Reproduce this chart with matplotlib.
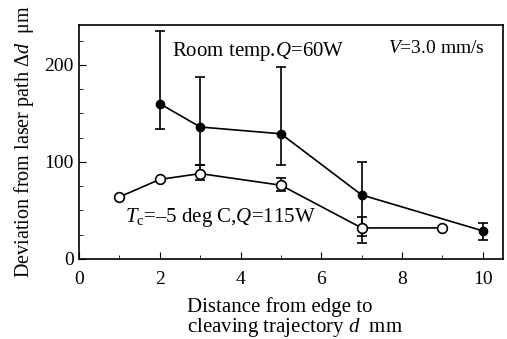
import matplotlib.pyplot as plt
from matplotlib.ticker import MultipleLocator

plt.rcParams['font.family'] = ['Liberation Serif', 'DejaVu Serif']
plt.rcParams['mathtext.fontset'] = 'custom'
plt.rcParams['mathtext.it'] = 'Liberation Serif:italic'
plt.rcParams['mathtext.rm'] = 'Liberation Serif'

# room temperature, Q = 60 W (filled)
room_d = [2, 3, 5, 7, 10]
room_dev = [160, 136, 129, 66, 29]
room_lo = [134, 97, 97, 16, 20]
room_hi = [235, 187, 198, 100, 37]

# cooled Tc = -5 deg C, Q = 115 W (open)
cool_d = [1, 2, 3, 5, 7, 9]
cool_dev = [64, 82, 88, 76, 32, 32]
cool_lo = [64, 82, 81, 70, 24, 32]
cool_hi = [64, 82, 97, 83, 43, 32]


def yerr(vals, lo, hi):
    return [[v - l for v, l in zip(vals, lo)], [h - v for v, h in zip(vals, hi)]]


fig = plt.figure(figsize=(5.07, 3.39), dpi=100)
ax = fig.add_axes([0.156, 0.236, 0.836, 0.690])

ax.errorbar(room_d, room_dev, yerr=yerr(room_dev, room_lo, room_hi),
            color='black', marker='o', ms=6, mfc='black', lw=1.2,
            elinewidth=1.2, capsize=3.5, capthick=1.2)
ax.errorbar(cool_d, cool_dev, yerr=yerr(cool_dev, cool_lo, cool_hi),
            color='black', marker='o', ms=7, mfc='white', mew=1.2, lw=1.2,
            elinewidth=1.2, capsize=3.5, capthick=1.2)

ax.set_xlim(0, 10.5)
ax.set_ylim(0, 241)
ax.xaxis.set_major_locator(MultipleLocator(2))
ax.xaxis.set_minor_locator(MultipleLocator(1))
ax.yaxis.set_major_locator(MultipleLocator(100))
ax.yaxis.set_minor_locator(MultipleLocator(25))
ax.tick_params(which='both', direction='in', labelsize=14)
ax.tick_params(which='major', length=5)
ax.tick_params(which='minor', length=3)
ax.tick_params(axis='x', pad=9)
ax.tick_params(axis='y', pad=4)
for s in ax.spines.values():
    s.set_linewidth(1.2)

ax.set_xlabel('Distance from edge to\ncleaving trajectory $d$  mm', fontsize=15,
              linespacing=0.92, multialignment='left')
ax.xaxis.set_label_coords(0.51, -0.165)
ax.set_ylabel(r'Deviation from laser path $\Delta d$  μm', fontsize=14.5,
              labelpad=6)

ax.text(2.3, 214, 'Room temp.$Q$=60W', fontsize=15, va='center')
ax.text(7.65, 217, '$V$=3.0 mm/s', fontsize=14, va='center')
ax.text(1.14, 43, '$T_{\\rm c}$=–5 deg C,$Q$=115W', fontsize=15, va='center')

fig.savefig('out.png', dpi=100)
